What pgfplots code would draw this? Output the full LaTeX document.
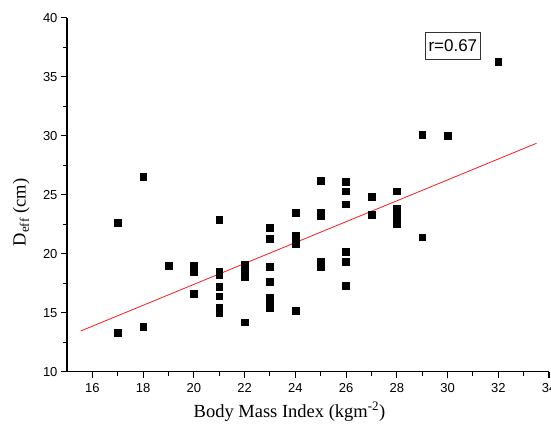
\documentclass[border=0pt]{standalone}
\usepackage{fontspec}
\setmainfont{Liberation Sans}
\newfontfamily\serifface{Liberation Serif}
\usepackage{pgfplots}
\pgfplotsset{compat=1.18}

\begin{document}
\begin{tikzpicture}
\begin{axis}[at={(0,0)},anchor=south west,scale only axis,
  width=482pt,height=354pt,
  xmin=15,xmax=34,ymin=10,ymax=40,
  axis lines=left,axis line style={-,line width=1.2pt},
  xtick={16,18,...,34},ytick={10,15,...,40},
  minor x tick num=1,minor y tick num=1,
  tick align=outside,tick style={black,line width=1.1pt},
  major tick length=6pt,minor tick length=4pt,
  /pgf/number format/assume math mode=true,
  ticklabel style={font=\fontsize{13}{15}\selectfont},
  xticklabel style={yshift=-2pt},
  xlabel={\serifface Body Mass Index (kgm\textsuperscript{-2})},
  ylabel={\serifface D\textsubscript{eff} (cm)},
  label style={font=\fontsize{18.5}{20}\selectfont},
  xlabel style={at={(axis description cs:0.4616,-0.113)},anchor=center},
  ylabel style={at={(axis description cs:-0.095,0.45)},anchor=center},
  clip=false]
% measured points
\addplot[only marks,mark=square*,mark size=3.4pt,black] coordinates {
(17,22.6) (17,13.3)
(18,26.5) (18,13.8)
(19,19.0)
(20,19.0) (20,18.7) (20,18.5) (20,16.6)
(21,22.9) (21,18.5) (21,18.2) (21,17.2) (21,16.4) (21,15.4) (21,15.2) (21,15.0)
(22,19.1) (22,18.8) (22,18.5) (22,18.2) (22,18.0) (22,14.2)
(23,22.2) (23,21.3) (23,18.9) (23,17.6) (23,16.3) (23,16.0) (23,15.4)
(24,23.5) (24,21.5) (24,21.1) (24,20.8) (24,15.2)
(25,26.2) (25,23.5) (25,23.2) (25,19.3) (25,18.9)
(26,26.1) (26,25.3) (26,24.2) (26,20.2) (26,19.3) (26,17.3)
(27,24.8) (27,23.3)
(28,25.3) (28,23.8) (28,23.5) (28,23.1) (28,22.8) (28,22.5)
(29,30.1) (29,21.4)
(30,30.0)
(32,36.3)
};
% linear fit
\addplot[red!90,line width=0.8pt] coordinates {(15.54,13.45) (33.51,29.36)};
\node[draw=black!80,line width=0.7pt,font=\fontsize{17}{19}\selectfont,
  inner xsep=3pt,minimum height=27pt] at (axis cs:30.21,37.6) {r=0.67};
\end{axis}
\pgfresetboundingbox
\useasboundingbox (-67pt,-56.3pt) rectangle (484pt,354pt+17.7pt);
\end{tikzpicture}
\end{document}
